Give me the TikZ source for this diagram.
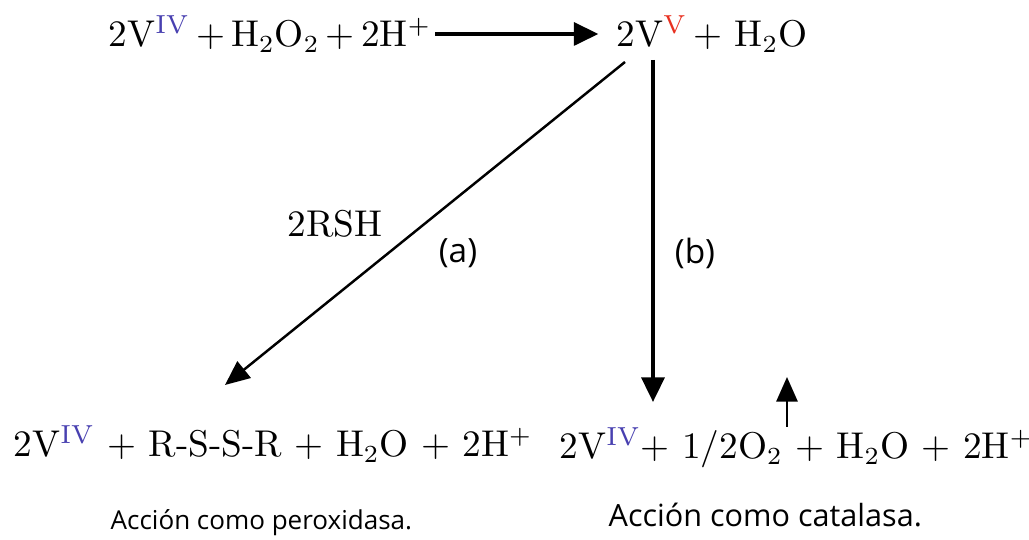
\documentclass[tikz,border=0pt]{standalone}
\usepackage{fontspec}
\newfontfamily\capfont{Open Sans}
\usepackage{xcolor}
\definecolor{vblue}{RGB}{72,64,176}
\definecolor{vred}{RGB}{232,48,32}
\usetikzlibrary{arrows.meta,positioning}
\tikzset{
  eqn/.style={inner sep=0pt, anchor=base west, font=\fontsize{10.6}{13}\selectfont},
  capt/.style={inner sep=0pt, anchor=base west, font=\capfont\fontsize{#1}{10}\selectfont},
  lbl/.style={inner sep=0pt, font=\capfont\fontsize{9.5}{11}\selectfont},
  bigarrow/.style={-{Triangle[length=7pt,width=6.5pt]}, line width=1.1pt},
  thinarrow/.style={-{Triangle[length=7pt,width=6pt]}, line width=0.7pt},
}
\newcommand{\vox}[2]{$^{\textcolor{#1}{\mathrm{#2}}}$}

\begin{document}
\begin{tikzpicture}[x=0.01cm, y=-0.01cm]
\useasboundingbox (0,0) rectangle (1029,540);

% Top reaction
\node[eqn] (react) at (108,47) {2V\vox{vblue}{IV}\,+\,H$_2$O$_2$\,+\,2H$^+$};
\node[eqn] (oxid) at (616,47) {2V\vox{vred}{V}\,+ H$_2$O};

\draw[bigarrow] ([xshift=1pt]react.east) -- ([xshift=-5pt]react.east -| oxid.west);

% Products
\node[eqn] (perox) at (13,457) {2V\vox{vblue}{IV} + R-S-S-R + H$_2$O + 2H$^+$};
\node[eqn] (catal) at (559,459) {2V\vox{vblue}{IV}+ 1/2O$_2$ + H$_2$O + 2H$^+$};

% Pathways
\coordinate (astart) at (625,62);
\coordinate (aend) at (225,385);
\coordinate (bstart) at (653,60);
\coordinate (bend) at (653,402);
\coordinate (gasfoot) at (787,427);
\coordinate (gastip) at (787,377);

\draw[thinarrow] (astart) -- (aend);
\draw[bigarrow] (bstart) -- (bend);
\draw[thinarrow] (gasfoot) -- (gastip);

\node[eqn] (rsh) at (287,237) {2RSH};
\node[lbl] (pa) at (458,253) {(a)};
\node[lbl] (pb) at (695,253) {(b)};

% Captions
\node[capt=7.4] (cperox) at (110,530) {Acción como peroxidasa.};
\node[capt=8.7] (ccatal) at (608,527) {Acción como catalasa.};

\end{tikzpicture}
\end{document}
